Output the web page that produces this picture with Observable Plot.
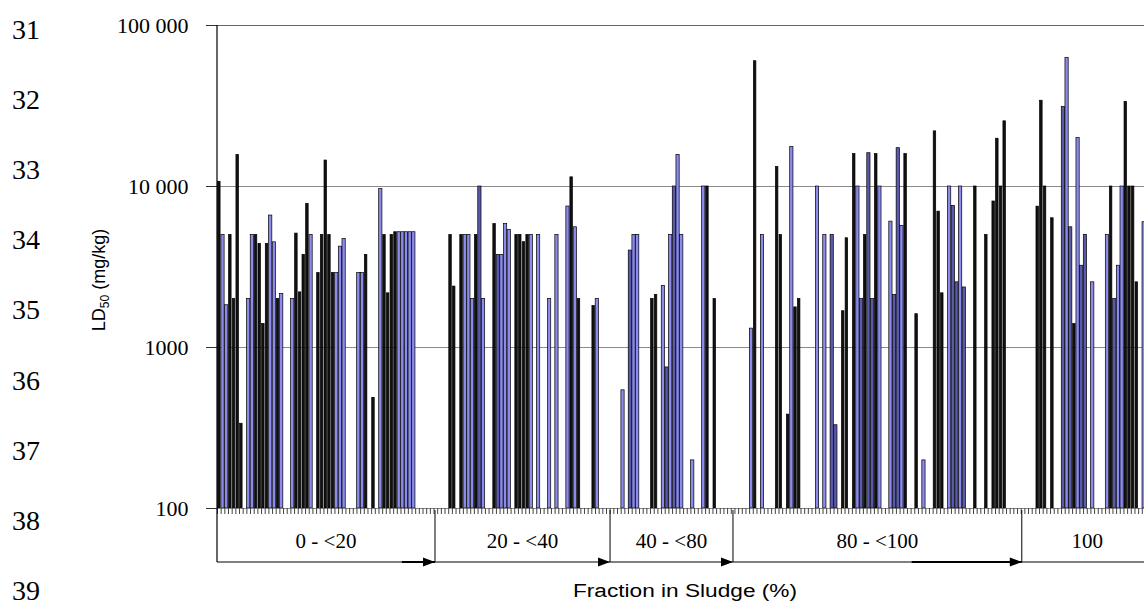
<!DOCTYPE html>
<html>
<head>
<meta charset="utf-8">
<script src="https://cdn.jsdelivr.net/npm/d3@7"></script>
<script src="https://cdn.jsdelivr.net/npm/@observablehq/plot@0.6"></script>
<style>
  html, body { margin: 0; padding: 0; background: #fff; overflow: hidden; }
  #chart { width: 1144px; height: 608px; }
</style>
</head>
<body>
<div id="chart"></div>
<script>
// ---- Data ----
// record slot along the x axis (one slot per substance, sorted by fraction in sludge)
const slots = [
  0,1,2,3,4,5,6,8,9,10,11,12,13,14,15,16,17,20,21,22,23,24,25,27,28,29,30,31,32,33,34,38,39,40,42,44,45,46,47,48,49,50,51,52,53,
  63,64,66,67,68,69,70,71,72,75,76,77,78,79,81,82,83,84,85,87,90,92,95,96,97,98,102,103,
  110,112,113,114,118,119,121,122,123,124,125,126,129,132,133,135,
  145,146,148,152,153,155,156,157,158,163,165,167,168,170,171,173,174,175,176,177,178,179,180,183,184,185,186,187,190,192,195,196,197,199,200,201,202,203,206,209,211,212,213,214,
  223,224,225,227,230,231,232,233,234,235,236,238,242,243,244,245,246,247,248,249,250,252
];
// LD50 (mg/kg)
const ld50 = [
  10700,5000,1830,5000,2000,15700,336,2000,5000,5000,4400,1400,4400,6600,4500,2000,2150,2000,5100,2200,3760,7800,5000,2900,5000,14500,5000,2900,2900,4230,4720,2900,2900,3760,487,9630,5000,2170,5000,5200,5200,5200,5200,5200,5200,
  5000,2390,5000,5000,5000,2000,5000,10000,2000,5840,3760,3760,5840,5370,5000,5000,4510,5000,5000,5000,2000,5000,7510,11400,5580,2000,1810,2000,
  542,4000,5000,5000,2000,2120,2410,752,5000,10000,15700,5000,199,10000,10000,2000,
  1310,60000,5000,13200,5000,383,17600,1775,2000,10000,5000,5000,329,1680,4770,15900,10000,2000,5000,16100,2000,15900,10000,6050,2120,17300,5690,15900,1610,199,22000,6980,2170,10000,7580,2540,10000,2360,10000,5000,8070,19800,10000,25400,
  7500,34100,10000,6350,31200,63000,5580,1400,20000,3220,5000,2540,5000,10000,2000,3220,10000,33500,10000,10000,2540,6000
];
// bar style class: k = black, b = blue, d = dark blue
const shades = [
  "k","b","b","k","k","k","k","b","b","k","k","k","k","b","b","k","b","b","k","k","k","k","b","k","k","k","k","k","b","b","b","b","b","k","k","b","k","k","k","k","b","b","b","b","b",
  "k","k","k","b","b","b","k","d","b","k","d","b","b","b","k","k","k","k","b","b","b","b","b","k","b","k","k","b",
  "b","d","b","b","k","k","b","d","b","d","b","b","b","b","k","k",
  "b","k","b","k","k","k","b","k","k","b","b","d","d","k","k","k","b","d","k","d","d","k","b","b","d","d","b","k","k","b","k","k","k","b","d","d","b","d","k","k","k","k","k","k",
  "k","k","k","k","d","b","d","k","b","d","d","b","b","k","d","b","b","k","k","k","k","b"
];
const categories = ["0 - <20", "20 - <40", "40 - <80", "80 - <100", "100"];
const categoryBounds = [0, 59.4, 107.1, 140.6, 219.3, 255];
const yTicks = [100, 1000, 10000, 100000];
const gridValues = [1000, 10000];
const lineNumbers = [31, 32, 33, 34, 35, 36, 37, 38, 39];

const bars = slots.map((s, i) => ({slot: s, value: ld50[i], shade: shades[i]}));
const shadeFill = {k: "#111111", b: "#8b8bee", d: "#5a5aaa"};
const fmt = d => d >= 10000 ? d3.format(",")(d).replace(/,/g, " ") : String(d);

const chart = Plot.plot({
  width: 1144,
  height: 608,
  marginLeft: 217,
  marginRight: 0,
  marginTop: 25,
  marginBottom: 100,
  style: {background: "transparent", overflow: "visible"},
  x: {domain: [0, 252.6], axis: null},
  y: {type: "log", domain: [100, 100000], axis: null},
  marks: [
    Plot.ruleY(gridValues, {stroke: "#8a8a8a", strokeWidth: 1}),
    Plot.ruleY([100000], {stroke: "#666", strokeWidth: 1.2}),
    Plot.rectY(bars, {
      x1: d => d.slot + (d.shade === "k" ? 0.16 : 0.06),
      x2: d => d.slot + (d.shade === "k" ? 0.84 : 0.94),
      y1: 100,
      y2: "value",
      fill: d => shadeFill[d.shade],
      stroke: "#000",
      strokeWidth: 0.7
    }),
    Plot.ruleY([100], {stroke: "#888", strokeWidth: 1}),
    Plot.axisX({ticks: d3.range(0, 254), tickSize: 6, tickFormat: () => "", stroke: "#444", label: null}),
    Plot.axisY({ticks: yTicks, tickSize: 11, tickPadding: 18, tickFormat: fmt,
      fontSize: 22, fontFamily: "Liberation Serif", stroke: "#333", label: null})
  ]
});
document.getElementById("chart").appendChild(chart);

// ---- category table, labels and line numbers (placed through the plot's scales) ----
const svg = d3.select(chart);
const xs = chart.scale("x"), ys = chart.scale("y");
const y0 = ys.apply(100);
const yTop = ys.apply(100000);
const yb = y0 + 54;
const g = svg.append("g").attr("stroke", "#000").attr("fill", "none");
// left axis line (extends into the category table)
g.append("line").attr("x1", xs.apply(0)).attr("x2", xs.apply(0)).attr("y1", yTop).attr("y2", yb).attr("stroke-width", 1.2);
// horizontal line of the table
g.append("line").attr("x1", xs.apply(0)).attr("x2", 1144).attr("y1", yb).attr("y2", yb).attr("stroke-width", 1);
// boundaries with arrowheads
categoryBounds.slice(1, -1).forEach(b => {
  const bx = xs.apply(b);
  g.append("line").attr("x1", bx).attr("x2", bx).attr("y1", y0 + 2).attr("y2", yb).attr("stroke-width", 1);
  g.append("path").attr("d", `M${bx},${yb} L${bx - 12},${yb - 4.5} L${bx - 12},${yb + 4.5} Z`).attr("fill", "#000").attr("stroke", "none");
});
// thicker line segments before two arrows
[[categoryBounds[1] - 9, categoryBounds[1]], [categoryBounds[4] - 30, categoryBounds[4]]].forEach(([a, b]) => {
  g.append("line").attr("x1", xs.apply(a)).attr("x2", xs.apply(b)).attr("y1", yb).attr("y2", yb).attr("stroke-width", 2.2);
});
// category labels
categories.forEach((c, i) => {
  svg.append("text")
    .attr("x", (xs.apply(categoryBounds[i]) + xs.apply(categoryBounds[i + 1])) / 2)
    .attr("y", y0 + 40)
    .attr("text-anchor", "middle")
    .attr("font-family", "Liberation Serif")
    .attr("font-size", 21)
    .attr("fill", "#000")
    .text(c);
});
// x label
svg.append("text")
  .attr("x", 685).attr("y", 597)
  .attr("text-anchor", "middle")
  .attr("font-family", "Liberation Sans")
  .attr("font-size", 18)
  .attr("textLength", 224).attr("lengthAdjust", "spacingAndGlyphs")
  .attr("fill", "#000")
  .text("Fraction in Sludge (%)");
// y label
const yl = svg.append("text")
  .attr("transform", "translate(105,280) rotate(-90)")
  .attr("text-anchor", "middle")
  .attr("font-family", "Liberation Sans")
  .attr("font-size", 18)
  .attr("fill", "#000");
yl.append("tspan").text("LD");
yl.append("tspan").attr("font-size", 12).attr("dy", 4).text("50");
yl.append("tspan").attr("dy", -4).text(" (mg/kg)");
// document line numbers
lineNumbers.forEach((n, i) => {
  svg.append("text")
    .attr("x", 12).attr("y", 39 + i * 70.1)
    .attr("text-anchor", "start")
    .attr("font-family", "Liberation Serif")
    .attr("font-size", 28)
    .attr("fill", "#000")
    .text(n);
});
</script>
</body>
</html>
